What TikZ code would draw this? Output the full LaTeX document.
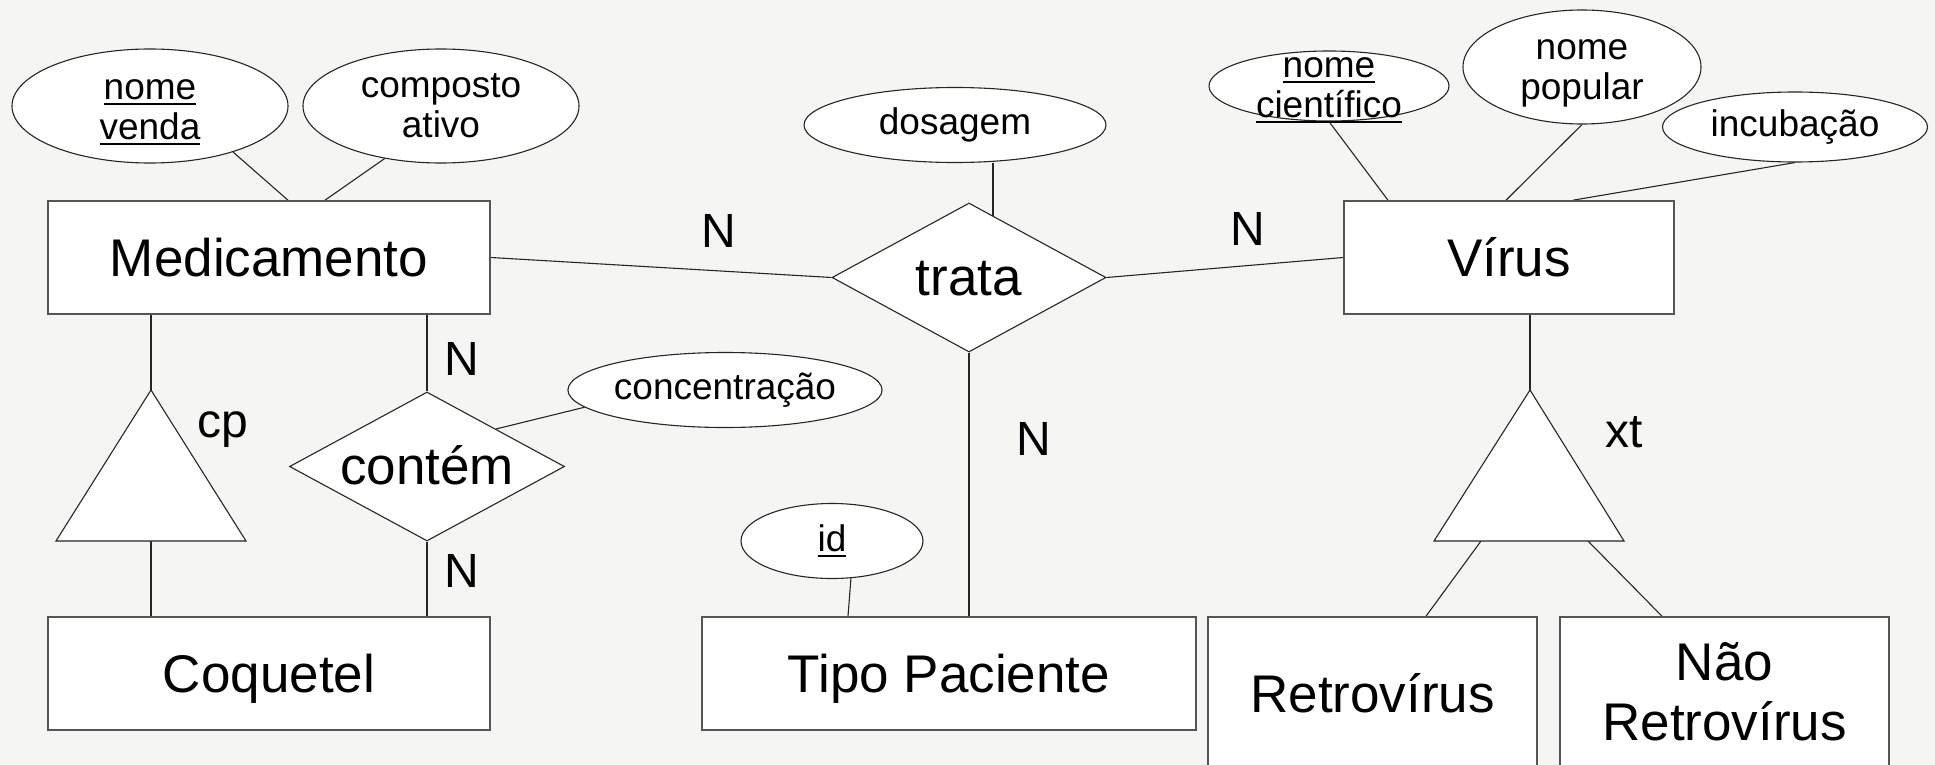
\documentclass[tikz,border=0pt]{standalone}
\usepackage{fontspec}
\setmainfont{Liberation Sans}
\usetikzlibrary{shapes.geometric}
\pgfdeclarelayer{bg}
\pgfsetlayers{bg,main}
\definecolor{bgc}{RGB}{245,245,243}
\definecolor{edgec}{RGB}{85,85,85}
\newcommand\ukey[1]{\vtop{\hbox{#1}\kern3pt\hrule height 2pt}}
\newcommand\twol[3]{\raisebox{#1}[0pt][0pt]{\vbox{\halign{\hfil##\hfil\cr#2\cr#3\cr}}}}
\begin{document}
\begin{tikzpicture}[x=1pt,y=-1pt,
  entity/.style={draw=edgec, line width=1.6pt, fill=white, rectangle, inner sep=0pt,
    font=\fontsize{53}{60}\selectfont, text height=38pt, text depth=0pt},
  entity2/.style={draw=edgec, line width=1.6pt, fill=white, rectangle, inner sep=0pt,
    font=\fontsize{53}{60}\selectfont},
  attr/.style={draw=black!85, line width=1.1pt, fill=white, ellipse, inner sep=0pt,
    font=\fontsize{37}{40}\selectfont},
  rel/.style={draw=black!85, line width=1.1pt, fill=white, diamond, aspect=1.84, inner sep=0pt,
    font=\fontsize{53}{60}\selectfont, text height=36pt, text depth=0pt},
  card/.style={inner sep=0pt, anchor=base, font=\fontsize{48}{52}\selectfont},
  conn/.style={draw=black!85, line width=1.1pt},
  spec/.style={draw=black!85, line width=1.1pt, fill=white, line join=miter}]
\useasboundingbox (0,0) rectangle (1935,765);

% entities
\node[entity, minimum width=442pt, minimum height=113pt] (med) at (269,257.5) {Medicamento};
\node[entity, minimum width=442pt, minimum height=113pt] (coq) at (269,673.5) {Coquetel};
\node[entity, minimum width=330pt, minimum height=113pt] (virus) at (1509,257.5) {Vírus};
\node[entity, minimum width=494pt, minimum height=113pt] (tipo) at (949,673.5) {Tipo Paciente};
\node[entity, minimum width=329pt, minimum height=152pt] (retro) at (1372.5,693) {Retrovírus};
\node[entity2, minimum width=329pt, minimum height=152pt] (nao) at (1724.5,693) {\twol{-47pt}{Não}{Retrovírus}};

% relationships
\node[rel, minimum width=274pt, minimum height=149pt] (trata) at (969,277.5) {trata};
\node[rel, minimum width=275pt, minimum height=149pt] (contem) at (427,466.5) {contém};

% attributes
\node[attr, minimum width=276pt, minimum height=114pt] (nvenda) at (150,106) {\twol{-34pt}{\ukey{nome}}{\ukey{venda}}};
\node[attr, minimum width=276pt, minimum height=114pt] (comp) at (441,106) {\twol{-32pt}{composto}{ativo}};
\node[attr, minimum width=302pt, minimum height=75pt] (dos) at (955,125) {dosagem};
\node[attr, minimum width=302pt, minimum height=75pt] (conc) at (725,390) {concentração};
\node[attr, minimum width=182pt, minimum height=75pt] (id) at (832,541) {\ukey{id}};
\node[attr, minimum width=240pt, minimum height=70pt] (ncient) at (1329,86) {\twol{-32pt}{\ukey{nome}}{\ukey{científico}}};
\node[attr, minimum width=238pt, minimum height=114pt] (npop) at (1582,67) {\twol{-33pt}{nome}{popular}};
\node[attr, minimum width=265pt, minimum height=70pt] (incub) at (1795,127) {incubação};

% specialisation triangles
\coordinate (cptop) at (151,390);
\coordinate (cpbl) at (56,541);
\coordinate (cpbr) at (246,541);
\coordinate (cpbase) at (151,541);
\draw[spec] (cptop) -- (cpbr) -- (cpbl) -- cycle;
\coordinate (xttop) at (1530,390);
\coordinate (xtbl) at (1434,541);
\coordinate (xtbr) at (1624,541);
\coordinate (xtl) at (1481,541);
\coordinate (xtr) at (1588,541);
\draw[spec] (xttop) -- (xtbr) -- (xtbl) -- cycle;

% cardinalities and labels
\node[card] (n1) at (719,247) {N};
\node[card] (n2) at (1248,245) {N};
\node[card] (n3) at (1034,455) {N};
\node[card] (n4) at (462,375) {N};
\node[card] (n5) at (462,587) {N};
\node[card] (cp) at (223,437) {cp};
\node[card] (xt) at (1624,447) {xt};

\begin{pgfonlayer}{bg}
\fill[bgc] (0,0) rectangle (1935,765);
\draw[conn] (nvenda.-29) -- ([xshift=19pt]med.north);
\draw[conn] (comp.-137.6) -- ([xshift=56pt]med.north);
\draw[conn] (med.east) -- (trata.west);
\draw[conn] (trata.east) -- (virus.west);
\draw[conn] ([xshift=38pt]dos.south) -- ([xshift=38pt]dos.south |- trata.center);
\draw[conn] (trata.south) -- (trata.south |- tipo.north);
\draw[conn] (id.-63) -- ([xshift=-101pt]tipo.north);
\draw[conn] (med.south -| cptop) -- (cptop);
\draw[conn] (cpbase) -- (cpbase |- coq.north);
\draw[conn] (contem.north |- med.south) -- (contem.north);
\draw[conn] (contem.south) -- (contem.south |- coq.north);
\draw[conn] (contem.north east) -- (conc.-173.4);
\draw[conn] (ncient.south) -- ([xshift=-121pt]virus.north);
\draw[conn] (npop.south) -- ([xshift=-3pt]virus.north);
\draw[conn] (incub.south) -- ([xshift=64pt]virus.north);
\draw[conn] (virus.south -| xttop) -- (xttop);
\draw[conn] (xtl) -- ([xshift=53.5pt]retro.north);
\draw[conn] (xtr) -- ([xshift=-62.5pt]nao.north);
\end{pgfonlayer}
\end{tikzpicture}
\end{document}
